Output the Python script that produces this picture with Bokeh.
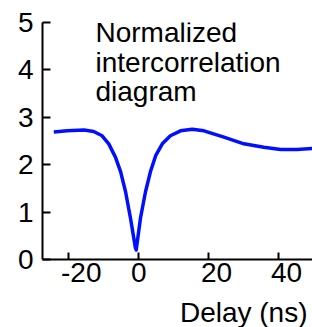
from bokeh.plotting import figure
from bokeh.models import Label, FixedTicker, Range1d, Title, LinearAxis
from bokeh.embed import file_html
from bokeh.resources import INLINE

delay = [-24.2, -20.4, -15.6, -12.8, -10.4, -8.5, -6.6, -5.1, -3.7, -2.3, -0.9, -0.66,
         0.57, 2.0, 3.4, 4.9, 6.8, 9.1, 12.0, 15.3, 18.7, 24.4, 30.1, 35.8, 40.6, 45.3, 49.7]
corr = [2.69, 2.715, 2.73, 2.70, 2.61, 2.44, 2.16, 1.85, 1.43, 0.875, 0.25, 0.20,
        0.875, 1.43, 1.85, 2.19, 2.44, 2.61, 2.715, 2.75, 2.715, 2.58, 2.44, 2.37, 2.32, 2.32, 2.34]
x_ticks = [-20, 0, 20, 40]
x_tick_labels = ["-20", "0", "20", "40"]
y_ticks = [0, 1, 2, 3, 4, 5]
title_lines = ["Normalized", "intercorrelation", "diagram"]
x_label = "Delay (ns)"

FONT = "Liberation Sans"
FS = "28px"
X0, X1 = -27.43, 49.71
SHIFT = 2.14  # tick labels start a little left of their tick (as in the reference)

p = figure(width=312, height=327, output_backend="svg", toolbar_location=None,
           x_range=Range1d(X0, X1), y_range=Range1d(0, 5),
           min_border_left=42, min_border_right=0, min_border_top=22, min_border_bottom=65)
p.outline_line_color = None
p.xgrid.visible = False
p.ygrid.visible = False
p.extra_x_ranges = {"lbl": Range1d(X0 + SHIFT, X1 + SHIFT)}

p.line(delay, corr, line_color="#0010ff", line_width=3.5, line_join="round")

for ax in (p.xaxis[0], p.yaxis[0]):
    ax.axis_line_width = 2
    ax.axis_line_color = "black"
    ax.major_tick_line_width = 2
    ax.major_tick_line_color = "black"
    ax.major_tick_out = 0
    ax.minor_tick_in = 0
    ax.minor_tick_out = 0
    ax.major_label_text_font = FONT
    ax.major_label_text_font_size = FS
    ax.major_label_text_color = "black"

p.xaxis[0].ticker = FixedTicker(ticks=x_ticks)
p.xaxis[0].major_label_overrides = {t: "" for t in x_ticks}
p.xaxis[0].major_label_text_font_size = "0px"
p.xaxis[0].major_label_standoff = 0
p.xaxis[0].major_tick_in = 7

p.yaxis[0].ticker = FixedTicker(ticks=y_ticks)
p.yaxis[0].major_tick_in = 8
p.yaxis[0].major_label_standoff = 9

lab_axis = LinearAxis(x_range_name="lbl", ticker=FixedTicker(ticks=x_ticks),
                      major_label_overrides={t: s for t, s in zip(x_ticks, x_tick_labels)},
                      axis_line_color=None, major_tick_line_color=None,
                      minor_tick_line_color=None, major_tick_in=0, major_tick_out=0,
                      minor_tick_in=0, minor_tick_out=0,
                      major_label_orientation=-0.0001, major_label_standoff=13,
                      major_label_text_font=FONT, major_label_text_font_size=FS,
                      major_label_text_color="black")
p.add_layout(lab_axis, "below")

title_y = [4.79, 4.146, 3.54]
for txt, yy in zip(title_lines, title_y):
    p.add_layout(Label(x=-12.29, y=yy, text=txt, text_font=FONT, text_font_size=FS,
                       text_baseline="alphabetic", text_align="left", text_color="black"))

xt = Title(text=x_label, align="right", text_font=FONT, text_font_size=FS,
           text_font_style="normal", text_color="black", offset=5, standoff=0)
p.add_layout(xt, "below")

open("out.html", "w").write(file_html(p, INLINE))
